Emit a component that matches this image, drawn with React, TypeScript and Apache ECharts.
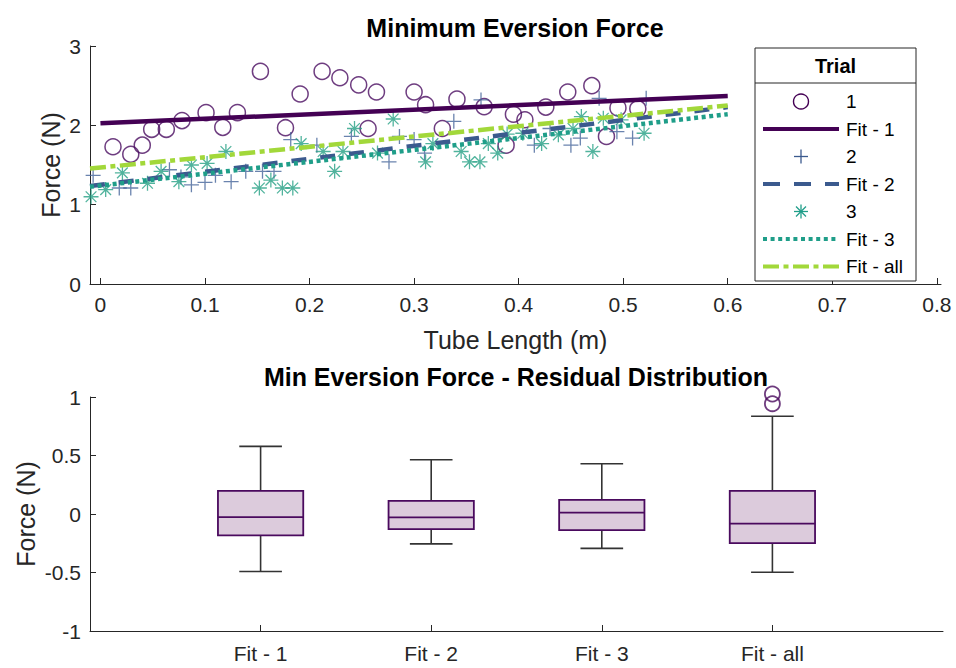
import React, { useEffect, useRef } from 'react';
import * as echarts from 'echarts';

// Minimum eversion force measurements: [tube length (m), force (N)]
const trial1: [number, number][] = [
  [0.012, 1.73], [0.029, 1.635], [0.04, 1.75], [0.049, 1.95], [0.063, 1.95],
  [0.078, 2.06], [0.101, 2.16], [0.117, 1.975], [0.131, 2.16], [0.153, 2.68],
  [0.177, 1.97], [0.191, 2.395], [0.212, 2.68], [0.229, 2.6], [0.247, 2.51],
  [0.256, 1.96], [0.264, 2.42], [0.3, 2.42], [0.311, 2.26], [0.327, 1.96],
  [0.341, 2.33], [0.367, 2.235], [0.388, 1.75], [0.395, 2.14], [0.406, 2.07],
  [0.426, 2.23], [0.447, 2.42], [0.47, 2.5], [0.484, 1.86], [0.495, 2.22],
  [0.514, 2.21],
];

const trial2: [number, number][] = [
  [-0.007, 1.37], [0.018, 1.21], [0.029, 1.21], [0.066, 1.44], [0.077, 1.35],
  [0.087, 1.25], [0.1, 1.28], [0.11, 1.37], [0.125, 1.29], [0.139, 1.42],
  [0.155, 1.42], [0.166, 1.42], [0.182, 1.82], [0.207, 1.75], [0.24, 1.86],
  [0.276, 1.54], [0.286, 1.86], [0.3, 1.82], [0.31, 1.65], [0.338, 2.05],
  [0.364, 2.32], [0.415, 1.75], [0.43, 1.96], [0.45, 1.75], [0.459, 1.84],
  [0.477, 2.34], [0.494, 1.92], [0.509, 1.84], [0.522, 2.34],
];

const trial3: [number, number][] = [
  [-0.009, 1.1], [0.005, 1.19], [0.021, 1.4], [0.045, 1.27], [0.058, 1.42],
  [0.075, 1.29], [0.087, 1.5], [0.102, 1.52], [0.12, 1.67], [0.152, 1.21],
  [0.163, 1.31], [0.174, 1.21], [0.184, 1.21], [0.192, 1.77], [0.213, 1.67],
  [0.224, 1.42], [0.232, 1.67], [0.243, 1.96], [0.265, 1.65], [0.28, 2.08],
  [0.311, 1.54], [0.318, 1.77], [0.345, 1.67], [0.353, 1.54], [0.363, 1.54],
  [0.371, 1.77], [0.38, 1.65], [0.389, 1.89], [0.404, 1.9], [0.422, 1.77],
  [0.438, 1.88], [0.452, 1.96], [0.46, 2.11], [0.471, 1.67], [0.481, 2.09],
  [0.498, 2.07], [0.52, 1.9],
];

// Linear fit end points
const fit1: [number, number][] = [[0, 2.025], [0.6, 2.37]];
const fit2: [number, number][] = [[-0.01, 1.235], [0.6, 2.23]];
const fit3: [number, number][] = [[-0.01, 1.225], [0.6, 2.14]];
const fitAll: [number, number][] = [[-0.01, 1.455], [0.6, 2.25]];

const lengthTicks = [0, 0.1, 0.2, 0.3, 0.4, 0.5, 0.6, 0.7, 0.8];

// Residual distributions per fit
const fitNames = ['Fit - 1', 'Fit - 2', 'Fit - 3', 'Fit - all'];
const boxPos = [1, 2, 3, 4];
const boxMin = [-0.492, -0.255, -0.294, -0.498];
const boxQ1 = [-0.183, -0.129, -0.137, -0.249];
const boxMedian = [-0.026, -0.028, 0.011, -0.083];
const boxQ3 = [0.197, 0.112, 0.12, 0.197];
const boxMax = [0.578, 0.464, 0.429, 0.835];
const residualOutliers: [number, number][] = [[4, 1.026], [4, 0.943]];

const FONT = '"Liberation Sans", Arial, Helvetica, sans-serif';
const AX = '#262626';
const C1 = '#440154';
const C2 = '#3b5a8e';
const C3 = '#1f9e89';
const CALL = '#a2d83a';
const PLUS = 'path://M7,0V14M0,7H14';
const STAR = 'path://M7,0V14M0,7H14M2,2L12,12M2,12L12,2';

function legendGraphics() {
  const x0 = 755, y0 = 48, w = 161, h = 233;
  const els: any[] = [
    { type: 'rect', shape: { x: x0, y: y0, width: w, height: h }, style: { fill: '#fff', stroke: AX, lineWidth: 1 }, z: 100 },
    { type: 'line', shape: { x1: x0, y1: 83, x2: x0 + w, y2: 83 }, style: { stroke: AX, lineWidth: 1 }, z: 101 },
    {
      type: 'text', x: x0 + w / 2, y: 66, z: 101,
      style: { text: 'Trial', fontSize: 20, fontWeight: 'bold', fontFamily: FONT, fill: '#000', align: 'center', verticalAlign: 'middle', textAlign: 'center', textVerticalAlign: 'middle' },
    },
  ];
  const labels = ['1', 'Fit - 1', '2', 'Fit - 2', '3', 'Fit - 3', 'Fit - all'];
  const lx1 = 763, lx2 = 839, mx = 801;
  labels.forEach((lab, i) => {
    const y = 101.5 + i * 27.5;
    els.push({
      type: 'text', x: 846, y, z: 101,
      style: { text: lab, fontSize: 19, fontFamily: FONT, fill: '#000', align: 'left', verticalAlign: 'middle', textAlign: 'left', textVerticalAlign: 'middle' },
    });
    const line = (stroke: string, dash?: number[]) => ({
      type: 'line', z: 101, shape: { x1: lx1, y1: y, x2: lx2, y2: y },
      style: { stroke, lineWidth: 4, lineDash: dash },
    });
    if (i === 0) {
      els.push({ type: 'circle', z: 101, shape: { cx: mx, cy: y, r: 7.5 }, style: { fill: 'none', stroke: C1, lineWidth: 1.4 } });
    } else if (i === 1) {
      els.push(line(C1));
    } else if (i === 2) {
      els.push({ type: 'line', z: 101, shape: { x1: mx - 7, y1: y, x2: mx + 7, y2: y }, style: { stroke: C2, lineWidth: 1.3 } });
      els.push({ type: 'line', z: 101, shape: { x1: mx, y1: y - 7, x2: mx, y2: y + 7 }, style: { stroke: C2, lineWidth: 1.3 } });
    } else if (i === 3) {
      els.push(line(C2, [17, 14]));
    } else if (i === 4) {
      const s = 7, d = 5;
      [[-s, 0, s, 0], [0, -s, 0, s], [-d, -d, d, d], [-d, d, d, -d]].forEach(([a, b, c, e]) =>
        els.push({ type: 'line', z: 101, shape: { x1: mx + a, y1: y + b, x2: mx + c, y2: y + e }, style: { stroke: C3, lineWidth: 1.3 } }));
    } else if (i === 5) {
      els.push(line(C3, [4, 3.6]));
    } else {
      els.push(line(CALL, [16, 4.5, 5, 4.5]));
    }
  });
  return els;
}

export default function App() {
  const ref = useRef<HTMLDivElement>(null);

  useEffect(() => {
    if (!ref.current) return;
    const chart = echarts.init(ref.current, undefined, { renderer: 'svg' });

    const axisText = { fontSize: 21, color: AX, fontFamily: FONT };
    const nameText = { fontSize: 25, color: AX, fontFamily: FONT };

    const boxData = boxPos.map((p, i) => [p, boxMin[i], boxQ1[i], boxMedian[i], boxQ3[i], boxMax[i]]);

    const option: any = {
      animation: false,
      backgroundColor: '#fff',
      textStyle: { fontFamily: FONT },
      grid: [
        { left: 90, top: 46, width: 851, height: 238 },
        { left: 90, top: 397, width: 853, height: 234 },
      ],
      xAxis: [
        {
          gridIndex: 0, type: 'value', min: -0.01, max: 0.804,
          name: 'Tube Length (m)', nameLocation: 'middle', nameGap: 43, nameTextStyle: nameText,
          axisLine: { show: true, onZero: false, lineStyle: { color: AX, width: 1 } },
          axisTick: { show: true, inside: true, length: 6, customValues: lengthTicks, lineStyle: { color: AX } },
          axisLabel: { customValues: lengthTicks, margin: 10, formatter: (v: number) => String(v), ...axisText },
          splitLine: { show: false },
        },
        {
          gridIndex: 1, type: 'value', min: 0, max: 5,
          axisLine: { show: true, onZero: false, lineStyle: { color: AX, width: 1 } },
          axisTick: { show: true, inside: true, length: 6, customValues: boxPos, lineStyle: { color: AX } },
          axisLabel: { customValues: boxPos, margin: 12, formatter: (v: number) => fitNames[boxPos.indexOf(v)] ?? '', ...axisText },
          splitLine: { show: false },
        },
      ],
      yAxis: [
        {
          gridIndex: 0, type: 'value', min: 0, max: 3, interval: 1,
          name: 'Force (N)', nameLocation: 'middle', nameGap: 27, nameRotate: 90, nameTextStyle: nameText,
          nameMoveOverlap: false,
          axisLine: { show: true, onZero: false, lineStyle: { color: AX, width: 1 } },
          axisTick: { show: true, inside: true, length: 6, lineStyle: { color: AX } },
          axisLabel: { margin: 9, ...axisText },
          splitLine: { show: false },
        },
        {
          gridIndex: 1, type: 'value', min: -1, max: 1, interval: 0.5,
          name: 'Force (N)', nameLocation: 'middle', nameGap: 52, nameRotate: 90, nameTextStyle: nameText,
          nameMoveOverlap: false,
          axisLine: { show: true, onZero: false, lineStyle: { color: AX, width: 1 } },
          axisTick: { show: true, inside: true, length: 6, lineStyle: { color: AX } },
          axisLabel: { margin: 9, ...axisText },
          splitLine: { show: false },
        },
      ],
      series: [
        {
          name: '1', type: 'scatter', xAxisIndex: 0, yAxisIndex: 0, data: trial1,
          symbol: 'circle', symbolSize: 16,
          itemStyle: { color: 'rgba(0,0,0,0)', borderColor: '#4a0d60', borderWidth: 1.5 },
        },
        {
          name: 'Fit - 1', type: 'line', xAxisIndex: 0, yAxisIndex: 0, data: fit1, showSymbol: false,
          lineStyle: { color: C1, width: 4.5 },
        },
        {
          name: '2', type: 'scatter', xAxisIndex: 0, yAxisIndex: 0, data: trial2,
          symbol: PLUS, symbolSize: 15,
          itemStyle: { color: 'rgba(0,0,0,0)', borderColor: '#45649a', borderWidth: 1.3 },
        },
        {
          name: 'Fit - 2', type: 'line', xAxisIndex: 0, yAxisIndex: 0, data: fit2, showSymbol: false,
          lineStyle: { color: C2, width: 4.5, type: [15, 14] },
        },
        {
          name: '3', type: 'scatter', xAxisIndex: 0, yAxisIndex: 0, data: trial3,
          symbol: STAR, symbolSize: 15,
          itemStyle: { color: 'rgba(0,0,0,0)', borderColor: '#25a084', borderWidth: 1.3 },
        },
        {
          name: 'Fit - 3', type: 'line', xAxisIndex: 0, yAxisIndex: 0, data: fit3, showSymbol: false,
          lineStyle: { color: C3, width: 4.5, type: [4, 3.6] },
        },
        {
          name: 'Fit - all', type: 'line', xAxisIndex: 0, yAxisIndex: 0, data: fitAll, showSymbol: false,
          lineStyle: { color: CALL, width: 4.5, type: [16, 4.5, 5, 4.5] },
        },
        {
          name: 'Residuals', type: 'custom', coordinateSystem: 'cartesian2d', xAxisIndex: 1, yAxisIndex: 1,
          data: boxData,
          encode: { x: 0, y: [1, 2, 3, 4, 5] },
          renderItem: (_params: any, api: any) => {
            const x = api.value(0);
            const lo = api.value(1), q1 = api.value(2), med = api.value(3), q3 = api.value(4), hi = api.value(5);
            const [xl, yq3] = api.coord([x - 0.25, q3]);
            const [xr, yq1] = api.coord([x + 0.25, q1]);
            const [xc, ym] = api.coord([x, med]);
            const yLo = api.coord([x, lo])[1];
            const yHi = api.coord([x, hi])[1];
            const cap = (xr - xl) / 4;
            const wStyle = { stroke: '#333333', lineWidth: 1.6 };
            const bStyle = { stroke: '#4a0a5e', lineWidth: 1.8 };
            return {
              type: 'group',
              children: [
                { type: 'line', shape: { x1: xc, y1: yq3, x2: xc, y2: yHi }, style: wStyle },
                { type: 'line', shape: { x1: xc, y1: yq1, x2: xc, y2: yLo }, style: wStyle },
                { type: 'line', shape: { x1: xc - cap, y1: yHi, x2: xc + cap, y2: yHi }, style: wStyle },
                { type: 'line', shape: { x1: xc - cap, y1: yLo, x2: xc + cap, y2: yLo }, style: wStyle },
                { type: 'rect', shape: { x: xl, y: yq3, width: xr - xl, height: yq1 - yq3 }, style: { fill: '#dccbdc', ...bStyle } },
                { type: 'line', shape: { x1: xl, y1: ym, x2: xr, y2: ym }, style: bStyle },
              ],
            };
          },
        },
        {
          name: 'Outliers', type: 'scatter', xAxisIndex: 1, yAxisIndex: 1, data: residualOutliers,
          symbol: 'circle', symbolSize: 15, clip: false,
          itemStyle: { color: 'rgba(0,0,0,0)', borderColor: '#4a0a5e', borderWidth: 1.8 },
        },
      ],
      graphic: [
        {
          type: 'text', x: 515, y: 28,
          style: { text: 'Minimum Eversion Force', fontSize: 25, fontWeight: 'bold', fontFamily: FONT, fill: '#000', align: 'center', verticalAlign: 'middle', textAlign: 'center', textVerticalAlign: 'middle' },
        },
        {
          type: 'text', x: 516, y: 377,
          style: { text: 'Min Eversion Force - Residual Distribution', fontSize: 25, fontWeight: 'bold', fontFamily: FONT, fill: '#000', align: 'center', verticalAlign: 'middle', textAlign: 'center', textVerticalAlign: 'middle' },
        },
        ...legendGraphics(),
      ],
    };

    chart.setOption(option);
    return () => chart.dispose();
  }, []);

  return <div ref={ref} style={{ position: 'fixed', left: 0, top: 0, width: 956, height: 668, background: '#fff' }} />;
}
